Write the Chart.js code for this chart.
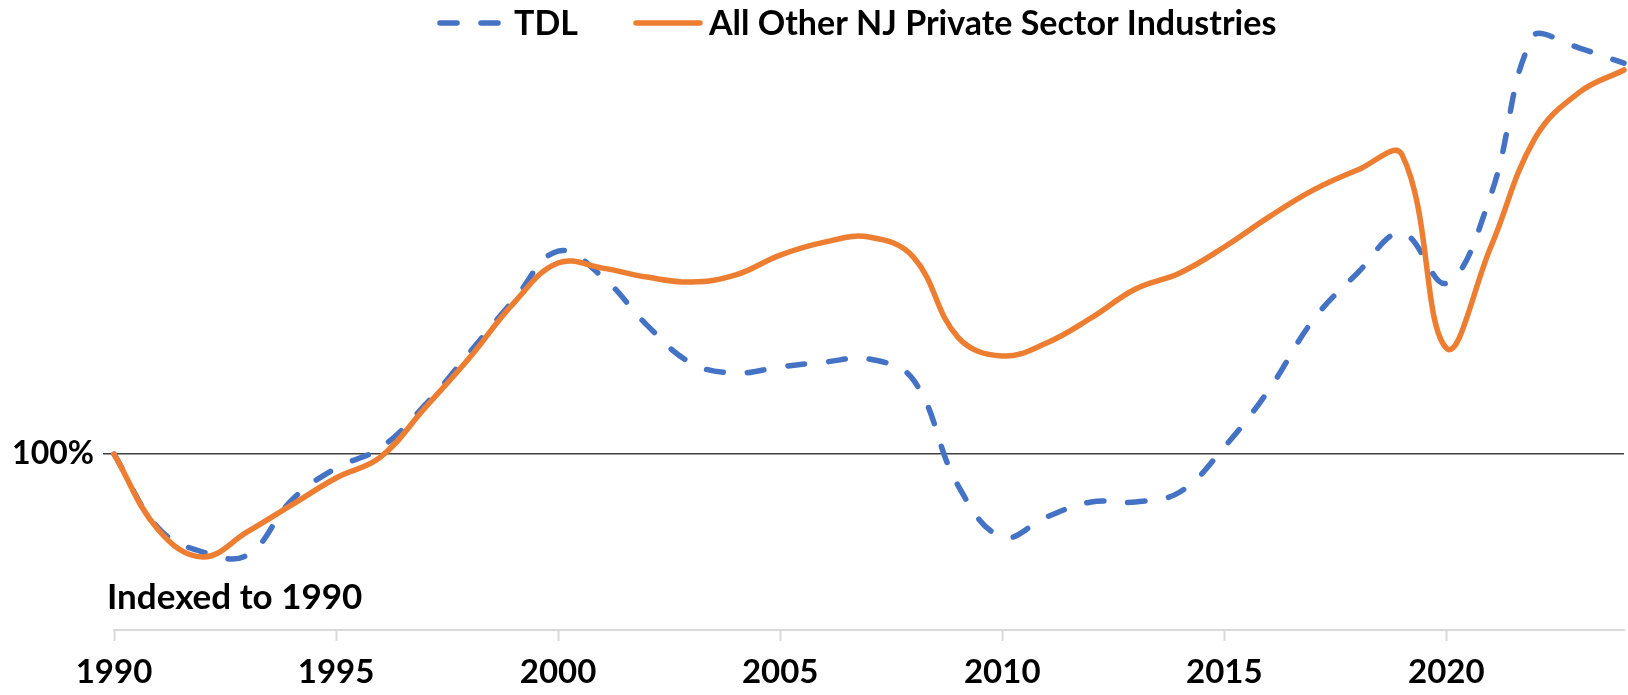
<!DOCTYPE html>
<html>
<head>
<meta charset="utf-8">
<script src="https://cdn.jsdelivr.net/npm/chart.js@4"></script>
<style>
  html, body { margin: 0; padding: 0; background: #ffffff; }
  #wrap { width: 1628px; height: 695px; position: relative; }
</style>
</head>
<body>
<div id="wrap"><canvas id="c" width="1628" height="695"></canvas></div>
<script>
const years = [1990,1991,1992,1993,1994,1995,1996,1997,1998,1999,2000,2001,2002,2003,2004,2005,2006,2007,2008,2009,2010,2011,2012,2013,2014,2015,2016,2017,2018,2019,2020,2021,2022,2023,2024];
const tdl = [1.000,0.9635,0.9517,0.9502,0.9773,0.9931,1.0030,1.0241,1.0498,1.0759,1.1000,1.0872,1.0635,1.0448,1.0399,1.0429,1.0453,1.0468,1.0365,0.9847,0.9591,0.9690,0.9764,0.9764,0.9813,1.0034,1.0315,1.0660,1.0892,1.1089,1.0842,1.1276,1.2069,1.2000,1.1926];
const otherNJ = [1.000,0.9626,0.9493,0.9616,0.9749,0.9882,0.9985,1.0227,1.0473,1.0744,1.0941,1.0916,1.0872,1.0847,1.0882,1.0980,1.1044,1.1069,1.0970,1.0576,1.0483,1.0547,1.0670,1.0813,1.0892,1.1020,1.1167,1.1300,1.1399,1.1475,1.0522,1.1020,1.1557,1.1783,1.1892];
const seriesNames = ['TDL', 'All Other NJ Private Sector Industries'];
const refValue = 1.0;
const refLabel = '100%';
const noteText = 'Indexed to 1990';

const FONT = 'Lato, "Open Sans", sans-serif';
const BLUE = '#4472C4';
const ORANGE = '#ED7D31';

const legendPlugin = {
  id: 'customLegend',
  afterDraw(chart) {
    const ctx = chart.ctx;
    ctx.save();
    ctx.lineWidth = 5.5;
    ctx.lineCap = 'round';
    const y = 23;
    // TDL
    ctx.strokeStyle = BLUE;
    ctx.setLineDash([17, 24]);
    ctx.beginPath(); ctx.moveTo(440, y); ctx.lineTo(499, y); ctx.stroke();
    ctx.setLineDash([]);
    ctx.fillStyle = '#000';
    ctx.font = 'bold 34px ' + FONT;
    ctx.textBaseline = 'middle';
    ctx.textAlign = 'left';
    ctx.fillText(seriesNames[0], 514, y + 1);
    // Other
    ctx.strokeStyle = ORANGE;
    ctx.beginPath(); ctx.moveTo(636, y); ctx.lineTo(700, y); ctx.stroke();
    ctx.fillText(seriesNames[1], 709, y + 1);
    // note
    ctx.font = 'bold 35px ' + FONT;
    ctx.textBaseline = 'alphabetic';
    ctx.fillText(noteText, 107, 609);
    ctx.restore();
  }
};

new Chart(document.getElementById('c'), {
  type: 'line',
  data: {
    datasets: [
      {
        label: seriesNames[0],
        data: years.map((x, i) => ({x: x, y: tdl[i]})),
        borderColor: BLUE,
        borderWidth: 5.5,
        borderDash: [17, 24],
        borderCapStyle: 'round',
        borderJoinStyle: 'round',
        pointRadius: 0,
        tension: 0.4,
        fill: false,
        clip: false,
        order: 2
      },
      {
        label: seriesNames[1],
        data: years.map((x, i) => ({x: x, y: otherNJ[i]})),
        borderColor: ORANGE,
        borderWidth: 5.5,
        borderCapStyle: 'round',
        borderJoinStyle: 'round',
        pointRadius: 0,
        tension: 0.4,
        fill: false,
        clip: false,
        order: 1
      }
    ]
  },
  options: {
    responsive: false,
    animation: false,
    layout: { padding: { top: 30, right: 4, left: 0, bottom: 0 } },
    plugins: { legend: { display: false }, tooltip: { enabled: false } },
    scales: {
      x: {
        type: 'linear',
        min: 1990,
        max: 2024,
        afterFit(scale) { scale.height = 65; },
        ticks: {
          stepSize: 5,
          includeBounds: false,
          autoSkip: false,
          maxRotation: 0,
          padding: 12,
          color: '#000',
          font: { family: FONT, size: 33, weight: 'bold' },
          callback: (v) => String(v)
        },
        grid: {
          drawOnChartArea: false,
          drawTicks: true,
          tickLength: 11,
          tickColor: '#d9d9d9',
          tickWidth: 2
        },
        border: { display: true, color: '#d9d9d9', width: 2 }
      },
      y: {
        min: 0.9133,
        max: 1.2089,
        afterFit(scale) { scale.width = 114; },
        afterBuildTicks(scale) { scale.ticks = [{ value: refValue }]; },
        ticks: {
          padding: 9,
          color: '#000',
          font: { family: FONT, size: 32, weight: 'bold' },
          callback: () => refLabel
        },
        grid: {
          color: '#404040',
          lineWidth: 1.5,
          drawTicks: true,
          tickLength: 11
        },
        border: { display: false }
      }
    }
  },
  plugins: [legendPlugin]
});
</script>
</body>
</html>
